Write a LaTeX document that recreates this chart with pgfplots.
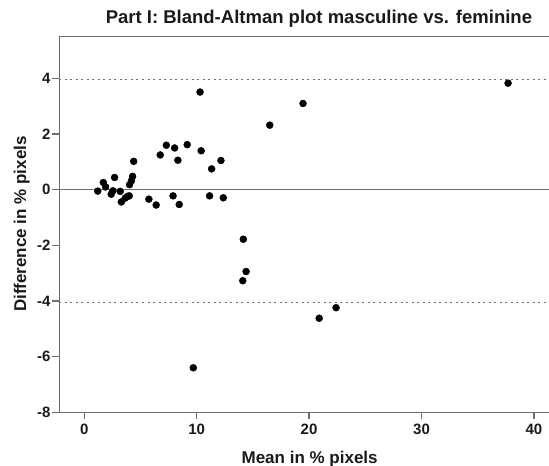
\documentclass[border=0pt]{standalone}
\usepackage{fontspec}
\setmainfont{Liberation Sans}
\usepackage{pgfplots}
\pgfplotsset{compat=1.18}
\definecolor{axgray}{HTML}{6E6E6E}
\definecolor{txt}{HTML}{1A1A1A}
\begin{document}
\begin{tikzpicture}
\begin{axis}[
    name=ax,
    scale only axis,
    width=489.5pt, height=375.6pt,
    xmin=-2.2, xmax=41.34,
    ymin=-8, ymax=5.5,
    axis x line*=box, axis y line*=left,
    axis line style={axgray, line width=1.4pt},
    xtick={0,10,...,40}, ytick={-8,-6,...,4},
    xtick pos=left, ytick pos=left,
    tick align=outside, major tick length=7pt,
    tick style={axgray, line width=1.2pt},
    /pgf/number format/assume math mode=true,
    ticklabel style={font=\fontsize{15}{17}\selectfont\bfseries, text=txt},
    xticklabel style={yshift=-1pt},
    yticklabel style={xshift=1.5pt},
    title={Part I: Bland-Altman plot masculine vs. feminine},
    title style={at={(0.530,1)}, anchor=base, yshift=7.2pt,
        font=\fontsize{18.5}{20}\selectfont\bfseries, text=txt},
    xlabel={Mean in \% pixels},
    xlabel style={at={(0.511,0)}, anchor=base, yshift=-51pt,
        font=\fontsize{17}{19}\selectfont\bfseries, text=txt},
    ylabel={Difference in \% pixels},
    ylabel style={at={(0,0.501)}, anchor=center, yshift=37.8pt,
        font=\fontsize{17}{19}\selectfont\bfseries, text=txt},
]
% reference lines: mean difference and limits of agreement
\addplot[axgray, line width=1.4pt] coordinates {(-2.2,0) (41.34,0)};
\addplot[axgray, line width=1.1pt, dash pattern=on 2pt off 3.5pt] coordinates {(-2.2,3.95) (41.34,3.95)};
\addplot[axgray, line width=1.1pt, dash pattern=on 2pt off 3.5pt] coordinates {(-2.2,-4.05) (41.34,-4.05)};
\addplot[only marks, mark=*, mark size=3.5pt, black] coordinates {
    (1.2,-0.05) (1.7,0.26) (1.9,0.1) (2.4,-0.16) (2.55,-0.04) (2.7,0.44)
    (3.2,-0.06) (3.3,-0.44) (3.65,-0.3) (3.85,-0.24) (4.0,-0.22) (4.03,0.18)
    (4.2,0.32) (4.3,0.48) (4.4,1.02) (5.75,-0.34) (6.4,-0.55) (6.76,1.25)
    (7.3,1.6) (7.9,-0.22) (8.04,1.5) (8.33,1.06) (8.45,-0.53) (9.16,1.62)
    (9.7,-6.4) (10.3,3.51) (10.4,1.4) (11.15,-0.22) (11.33,0.75) (12.16,1.05)
    (12.37,-0.29) (14.15,-1.78) (14.4,-2.94) (14.1,-3.27) (16.5,2.32)
    (19.46,3.1) (20.9,-4.62) (22.4,-4.24) (37.7,3.83)
};
\end{axis}
\pgfresetboundingbox
\path ([shift={(-59.5pt,-53.3pt)}]ax.south west) rectangle ([shift={(0pt,36.7pt)}]ax.north east);
\end{tikzpicture}
\end{document}
